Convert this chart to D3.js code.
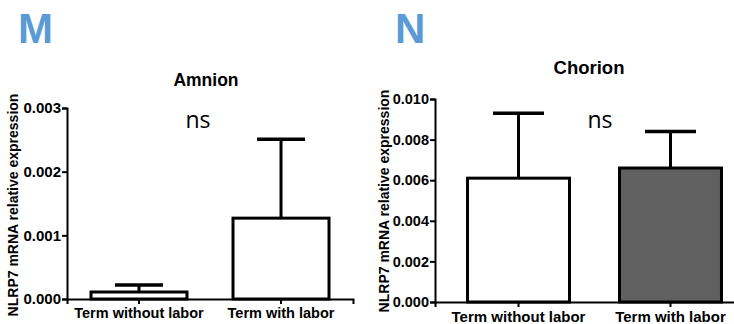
<!DOCTYPE html>
<html>
<head>
<meta charset="utf-8">
<script src="https://cdnjs.cloudflare.com/ajax/libs/d3/7.8.5/d3.min.js"></script>
<style>
    body { margin: 0; background: #fff; }
    svg { display: block; }
</style>
</head>
<body>
<div id="chart"></div>
<script>
// categories shared by both panels
var categories = ["Term without labor", "Term with labor"];

// Amnion (panel M)
var amnionMean = [0.00011, 0.00127];
var amnionErr = [0.00022, 0.00251];
var amnionTicks = [0, 0.001, 0.002, 0.003];

// Chorion (panel N)
var chorionMean = [0.0061, 0.0066];
var chorionErr = [0.0093, 0.0084];
var chorionTicks = [0, 0.002, 0.004, 0.006, 0.008, 0.010];

var svg = d3.select("#chart")
    .append("svg")
    .attr("width", 734)
    .attr("height", 324);

drawPanel(svg, {
    letter: "M", letterX: 18,
    title: "Amnion", titleX: 206, titleY: 86, titleSize: 17.5,
    nsX: 198,
    axisX: 67, x1: 353, y0: 299, y1: 108,
    labelX: 13, labelY: 205,
    tickSize: 15, catSize: 14.5,
    max: 0.003, ticks: amnionTicks,
    mean: amnionMean, err: amnionErr,
    fills: ["#fff", "#fff"],
    pi: 0.324, po: 0.169
});

drawPanel(svg, {
    letter: "N", letterX: 395,
    title: "Chorion", titleX: 589, titleY: 74, titleSize: 18.5,
    nsX: 600,
    axisX: 435, x1: 754, y0: 302, y1: 99,
    labelX: 384, labelY: 201,
    tickSize: 14.5, catSize: 15,
    max: 0.010, ticks: chorionTicks,
    mean: chorionMean, err: chorionErr,
    fills: ["#fff", "#606060"],
    pi: 0.329, po: 0.214
});

function drawPanel(svg, p) {
    var g = svg.append("g");

    var x = d3.scaleBand()
        .domain(categories)
        .range([p.axisX, p.x1])
        .paddingInner(p.pi)
        .paddingOuter(p.po);

    var y = d3.scaleLinear()
        .domain([0, p.max])
        .range([p.y0, p.y1]);

    var data = categories.map(function (c, i) {
        return {name: c, mean: p.mean[i], err: p.err[i], fill: p.fills[i]};
    });

    // bars
    g.selectAll("rect.bar")
        .data(data)
        .enter()
        .append("rect")
        .attr("class", "bar")
        .attr("x", function (d) { return x(d.name); })
        .attr("width", x.bandwidth())
        .attr("y", function (d) { return y(d.mean); })
        .attr("height", function (d) { return y(0) - y(d.mean); })
        .attr("fill", function (d) { return d.fill; })
        .attr("stroke", "#000")
        .attr("stroke-width", 3);

    // error bars (upper only)
    var cap = x.bandwidth() / 4;
    g.selectAll("line.err")
        .data(data)
        .enter()
        .append("line")
        .attr("class", "err")
        .attr("x1", function (d) { return x(d.name) + x.bandwidth() / 2; })
        .attr("x2", function (d) { return x(d.name) + x.bandwidth() / 2; })
        .attr("y1", function (d) { return y(d.mean); })
        .attr("y2", function (d) { return y(d.err); })
        .attr("stroke", "#000")
        .attr("stroke-width", 3);
    g.selectAll("line.cap")
        .data(data)
        .enter()
        .append("line")
        .attr("class", "cap")
        .attr("x1", function (d) { return x(d.name) + x.bandwidth() / 2 - cap; })
        .attr("x2", function (d) { return x(d.name) + x.bandwidth() / 2 + cap; })
        .attr("y1", function (d) { return y(d.err); })
        .attr("y2", function (d) { return y(d.err); })
        .attr("stroke", "#000")
        .attr("stroke-width", 3.5);

    // y axis
    var yAxis = g.append("g")
        .attr("transform", "translate(" + p.axisX + ",0)")
        .call(d3.axisLeft(y)
            .tickValues(p.ticks)
            .tickFormat(d3.format(".3f"))
            .tickSizeOuter(0)
            .tickSize(5)
            .tickPadding(1));
    yAxis.select(".domain").attr("stroke-width", 2);
    yAxis.selectAll(".tick line").attr("stroke-width", 2);
    yAxis.selectAll("text")
        .style("font-family", "'Liberation Sans', Arial, sans-serif")
        .style("font-weight", "bold")
        .style("font-size", p.tickSize + "px")
        .attr("fill", "#000");

    // x axis
    var xAxis = g.append("g")
        .attr("transform", "translate(0," + p.y0 + ")")
        .call(d3.axisBottom(x)
            .tickSizeOuter(0)
            .tickSize(5)
            .tickPadding(4));
    xAxis.select(".domain").attr("stroke-width", 2);
    xAxis.selectAll(".tick line").attr("stroke-width", 2);
    xAxis.selectAll("text")
        .style("font-family", "'Liberation Sans', Arial, sans-serif")
        .style("font-weight", "bold")
        .style("font-size", p.catSize + "px")
        .attr("fill", "#000");

    // y label
    g.append("text")
        .attr("transform", "translate(" + p.labelX + "," + p.labelY + ") rotate(-90)")
        .attr("text-anchor", "middle")
        .attr("dy", "0.35em")
        .style("font-family", "'Liberation Sans', Arial, sans-serif")
        .style("font-weight", "bold")
        .style("font-size", "14px")
        .text("NLRP7 mRNA relative expression");

    // title
    g.append("text")
        .attr("x", p.titleX)
        .attr("y", p.titleY)
        .attr("text-anchor", "middle")
        .style("font-family", "'Liberation Sans', Arial, sans-serif")
        .style("font-weight", "bold")
        .style("font-size", p.titleSize + "px")
        .text(p.title);

    // ns
    g.append("text")
        .attr("x", p.nsX)
        .attr("y", 128)
        .attr("text-anchor", "middle")
        .style("font-family", "'Open Sans', sans-serif")
        .style("font-size", "23px")
        .text("ns");

    // panel letter
    g.append("text")
        .attr("x", p.letterX)
        .attr("y", 43)
        .attr("fill", "#5b9bd5")
        .style("font-family", "'Liberation Sans', Arial, sans-serif")
        .style("font-weight", "bold")
        .style("font-size", "42px")
        .text(p.letter);
}
</script>
</body>
</html>
